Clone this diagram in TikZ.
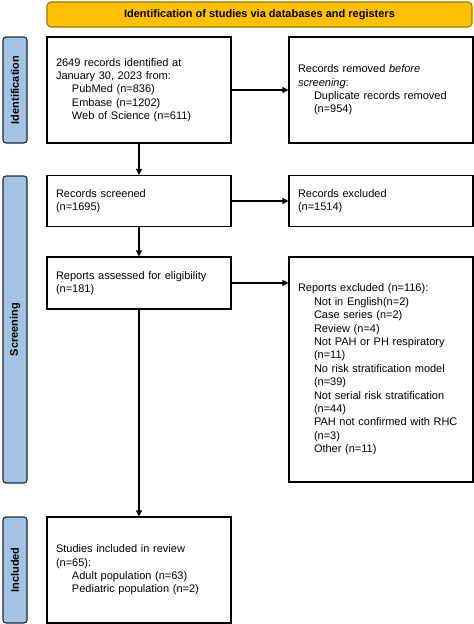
\documentclass[tikz,border=0pt]{standalone}
\usepackage{fontspec}
\setmainfont{Liberation Sans}
\usetikzlibrary{arrows.meta}

\definecolor{bannerfill}{HTML}{FFC000}
\definecolor{bannerline}{HTML}{9C7800}
\definecolor{sidefill}{HTML}{A4C2E4}
\definecolor{sideline}{HTML}{1F2A38}

\begin{document}
\begin{tikzpicture}[x=1pt, y=-1pt,
    box/.style={draw, line width=1.1pt, fill=white, minimum width=184pt, inner xsep=9pt, inner ysep=0pt, text width=166pt, align=left, font=\fontsize{11}{13.4}\selectfont},
    side/.style={draw=sideline, line width=1.1pt, fill=sidefill, rounded corners=3pt, minimum width=24pt, inner sep=0pt, font=\bfseries\fontsize{11}{13}\selectfont},
    flow/.style={line width=1.2pt, -{Triangle[length=6pt, width=6pt]}}]

    \useasboundingbox (0,0) rectangle (474,624);

    \node[draw=bannerline, line width=1.1pt, fill=bannerfill, rounded corners=4pt, minimum width=425pt, minimum height=25pt, font=\bfseries\fontsize{11}{13}\selectfont] (banner) at (259.5, 14.5) {Identification of studies via databases and registers};

    \node[side, minimum height=106pt] (sideid) at (15, 90) {\rotatebox{90}{Identification}};
    \node[side, minimum height=307pt] (sidescr) at (15, 329.5) {\rotatebox{90}{Screening}};
    \node[side, minimum height=106pt] (sideinc) at (15, 570) {\rotatebox{90}{Included}};

    \node[box, minimum height=106pt] (identified) at (139, 90) {2649 records identified at\\January 30, 2023 from:\\\hspace*{16pt}PubMed (n=836)\\\hspace*{16pt}Embase (n=1202)\\\hspace*{16pt}Web of Science (n=611)};
    \node[box, minimum height=106pt] (removed) at (381, 90) {Records removed \textit{before}\\\textit{screening}:\\\hspace*{16pt}Duplicate records removed\\\hspace*{16pt}(n=954)};
    \node[box, minimum height=51pt] (screened) at (139, 201) {Records screened\\(n=1695)};
    \node[box, minimum height=51pt] (excluded) at (381, 201) {Records excluded\\(n=1514)};
    \node[box, minimum height=52pt] (assessed) at (139, 283) {Reports assessed for eligibility\\(n=181)};
    \node[box, minimum height=225pt] (rejected) at (381, 369.5) {Reports excluded (n=116):\\\hspace*{16pt}Not in English(n=2)\\\hspace*{16pt}Case series (n=2)\\\hspace*{16pt}Review (n=4)\\\hspace*{16pt}Not PAH or PH respiratory\\\hspace*{16pt}(n=11)\\\hspace*{16pt}No risk stratification model\\\hspace*{16pt}(n=39)\\\hspace*{16pt}Not serial risk stratification\\\hspace*{16pt}(n=44)\\\hspace*{16pt}PAH not confirmed with RHC\\\hspace*{16pt}(n=3)\\\hspace*{16pt}Other (n=11)};
    \node[box, minimum height=106pt] (included) at (139, 570) {Studies included in review\\(n=65):\\\hspace*{16pt}Adult population (n=63)\\\hspace*{16pt}Pediatric population (n=2)};

    \draw[flow] (identified) -- (removed);
    \draw[flow] (identified) -- (screened);
    \draw[flow] (screened) -- (excluded);
    \draw[flow] (screened) -- (assessed);
    \draw[flow] (assessed) -- (assessed -| rejected.west);
    \draw[flow] (assessed) -- (included);

\end{tikzpicture}
\end{document}
